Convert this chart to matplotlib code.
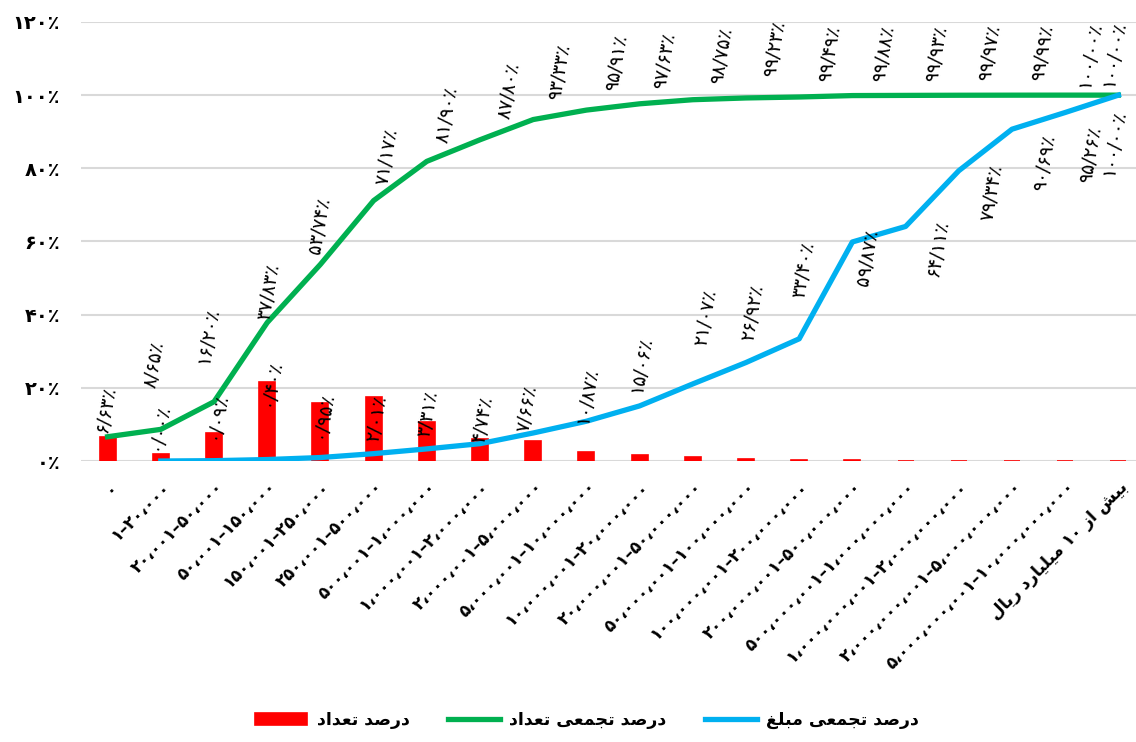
import re
import numpy as np
import matplotlib
matplotlib.use("Agg")
import matplotlib.pyplot as plt

# amount ranges (rial), last one is "more than 10 billion rial"
categories = [
    "0", "1-20,000", "20,001-50,000", "50,001-150,000", "150,001-250,000",
    "250,001-500,000", "500,001-1,000,000", "1,000,001-2,000,000",
    "2,000,001-5,000,000", "5,000,001-10,000,000", "10,000,001-20,000,000",
    "20,000,001-50,000,000", "50,000,001-100,000,000",
    "100,000,001-200,000,000", "200,000,001-500,000,000",
    "500,000,001-1,000,000,000", "1,000,000,001-2,000,000,000",
    "2,000,000,001-5,000,000,000", "5,000,000,001-10,000,000,000",
    "بیش از 10 میلیارد ریال",
]
# cumulative count percentage
cum_count = [6.63, 8.65, 16.20, 37.83, 53.74, 71.17, 81.90, 87.80, 93.33, 95.91,
             97.63, 98.75, 99.23, 99.49, 99.88, 99.93, 99.97, 99.99, 100.00, 100.00]
# cumulative amount percentage (first class has no amount point)
cum_amount = [np.nan, 0.00, 0.09, 0.40, 0.95, 2.01, 3.31, 4.74, 7.66, 10.87,
              15.06, 21.07, 26.92, 33.40, 59.87, 64.11, 79.34, 90.69, 95.26, 100.00]
# count percentage per class
count_pct = [6.63, 2.02, 7.55, 21.63, 15.91, 17.43, 10.73, 5.90, 5.53, 2.58,
             1.72, 1.12, 0.48, 0.26, 0.39, 0.05, 0.04, 0.02, 0.01, 0.00]
y_ticks = [0, 20, 40, 60, 80, 100, 120]

legend_labels = ["درصد تعداد", "درصد تجمعی تعداد", "درصد تجمعی مبلغ"]

# label placement (pixels from the point to the label centre)
green_off = [(-2, 27), (-7, 65), (-6, 66), (2, 31), (-1, 39), (13, 44), (20, 47),
             (29, 49), (26, 48), (30, 47), (25, 43), (29, 44), (29, 49), (30, 43),
             (31, 42), (31, 42), (31, 42), (31, 42), (25, 40), (-5, 41)]
blue_off = [(0, 0), (-2, 34), (3, 45), (3, 77), (2, 43), (3, 35), (1, 35), (3, 24),
            (-6, 24), (1, 26), (1, 41), (13, 66), (7, 50), (5, 69), (15, -16),
            (32, -22), (33, -22), (33, -34), (25, -42), (-5, -48)]

RED, GREEN, BLUE = "#FF0000", "#00B050", "#00B0F0"

# --- very small arabic/persian shaper (matplotlib has no bidi/shaping) ---
FORMS = {
    "ا": ("\uFE8D", "\uFE8E", None, None),
    "ب": ("\uFE8F", "\uFE90", "\uFE91", "\uFE92"),
    "ت": ("\uFE95", "\uFE96", "\uFE97", "\uFE98"),
    "ج": ("\uFE9D", "\uFE9E", "\uFE9F", "\uFEA0"),
    "د": ("\uFEA9", "\uFEAA", None, None),
    "ر": ("\uFEAD", "\uFEAE", None, None),
    "ز": ("\uFEAF", "\uFEB0", None, None),
    "ش": ("\uFEB5", "\uFEB6", "\uFEB7", "\uFEB8"),
    "ص": ("\uFEB9", "\uFEBA", "\uFEBB", "\uFEBC"),
    "ع": ("\uFEC9", "\uFECA", "\uFECB", "\uFECC"),
    "غ": ("\uFECD", "\uFECE", "\uFECF", "\uFED0"),
    "ل": ("\uFEDD", "\uFEDE", "\uFEDF", "\uFEE0"),
    "م": ("\uFEE1", "\uFEE2", "\uFEE3", "\uFEE4"),
    "ی": ("\uFBFC", "\uFBFD", "\uFBFE", "\uFBFF"),
}
FA_DIGITS = str.maketrans("0123456789,-", "۰۱۲۳۴۵۶۷۸۹،–")


def fa(text):
    return text.translate(FA_DIGITS)


def shape(text):
    chars = list(fa(text))
    if not any(c in FORMS for c in chars):
        return "".join(chars)
    out = []
    for i, ch in enumerate(chars):
        if ch not in FORMS:
            out.append(ch)
            continue
        iso, fin, ini, med = FORMS[ch]
        prev = chars[i - 1] if i > 0 else None
        nxt = chars[i + 1] if i + 1 < len(chars) else None
        jp = prev in FORMS and FORMS[prev][2] is not None
        jn = nxt in FORMS and ini is not None
        if jp and jn:
            out.append(med)
        elif jp:
            out.append(fin)
        elif jn:
            out.append(ini)
        else:
            out.append(iso)
    s = "".join(out)[::-1]
    return re.sub(r"[۰-۹]+", lambda m: m.group(0)[::-1], s)


def pct(v):
    return fa(f"{v:.2f}").replace(".", "/") + "٪"


x = np.arange(len(categories))

fig = plt.figure(figsize=(11.36, 7.42), dpi=100)
ax = fig.add_axes([81 / 1136, 0.3787, 1064 / 1136, 0.5917])

bars = ax.bar(x, count_pct, width=0.3, color=RED, edgecolor=RED, linewidth=1.2, zorder=2)
(gl,) = ax.plot(x, cum_count, color=GREEN, lw=3.8, solid_joinstyle="round", zorder=3)
(bl,) = ax.plot(x, cum_amount, color=BLUE, lw=3.8, solid_joinstyle="round", zorder=4)

for xi, v, (dx, dy) in zip(x, cum_count, green_off):
    ax.annotate(pct(v), (xi, v), xytext=(dx, dy), textcoords="offset pixels",
                rotation=80, ha="center", va="center", fontsize=13.5, zorder=5)
for xi, v, (dx, dy) in zip(x, cum_amount, blue_off):
    if np.isnan(v):
        continue
    ax.annotate(pct(v), (xi, v), xytext=(dx, dy), textcoords="offset pixels",
                rotation=80, ha="center", va="center", fontsize=13.5, zorder=5)

ax.set_xlim(-0.5, len(categories) - 0.5)
ax.set_ylim(0, 120)
ax.set_yticks(y_ticks)
ax.set_yticklabels([fa(str(t)) + "٪" for t in y_ticks], fontsize=14, fontweight="bold")
ax.set_xticks(x)
ax.set_xticklabels([shape(c) for c in categories], rotation=45, ha="right", va="top",
                   rotation_mode="anchor", fontsize=12, fontweight="bold")
ax.tick_params(axis="both", length=0)
ax.tick_params(axis="y", pad=15)
ax.tick_params(axis="x", pad=12)
ax.grid(axis="y", color="#d9d9d9", lw=1.5, zorder=0)
ax.set_axisbelow(True)
for sp in ax.spines.values():
    sp.set_visible(False)

# leading space keeps the tail of the final glyph off the legend handle
fig.legend([bars, gl, bl], [" " + shape(t) for t in legend_labels], loc="center",
           bbox_to_anchor=(0.517, 0.03), ncol=3, frameon=False,
           prop={"weight": "bold", "size": 12.5}, handlelength=3.0,
           handletextpad=0.2, columnspacing=2.2)

fig.savefig("out.png", dpi=100)
